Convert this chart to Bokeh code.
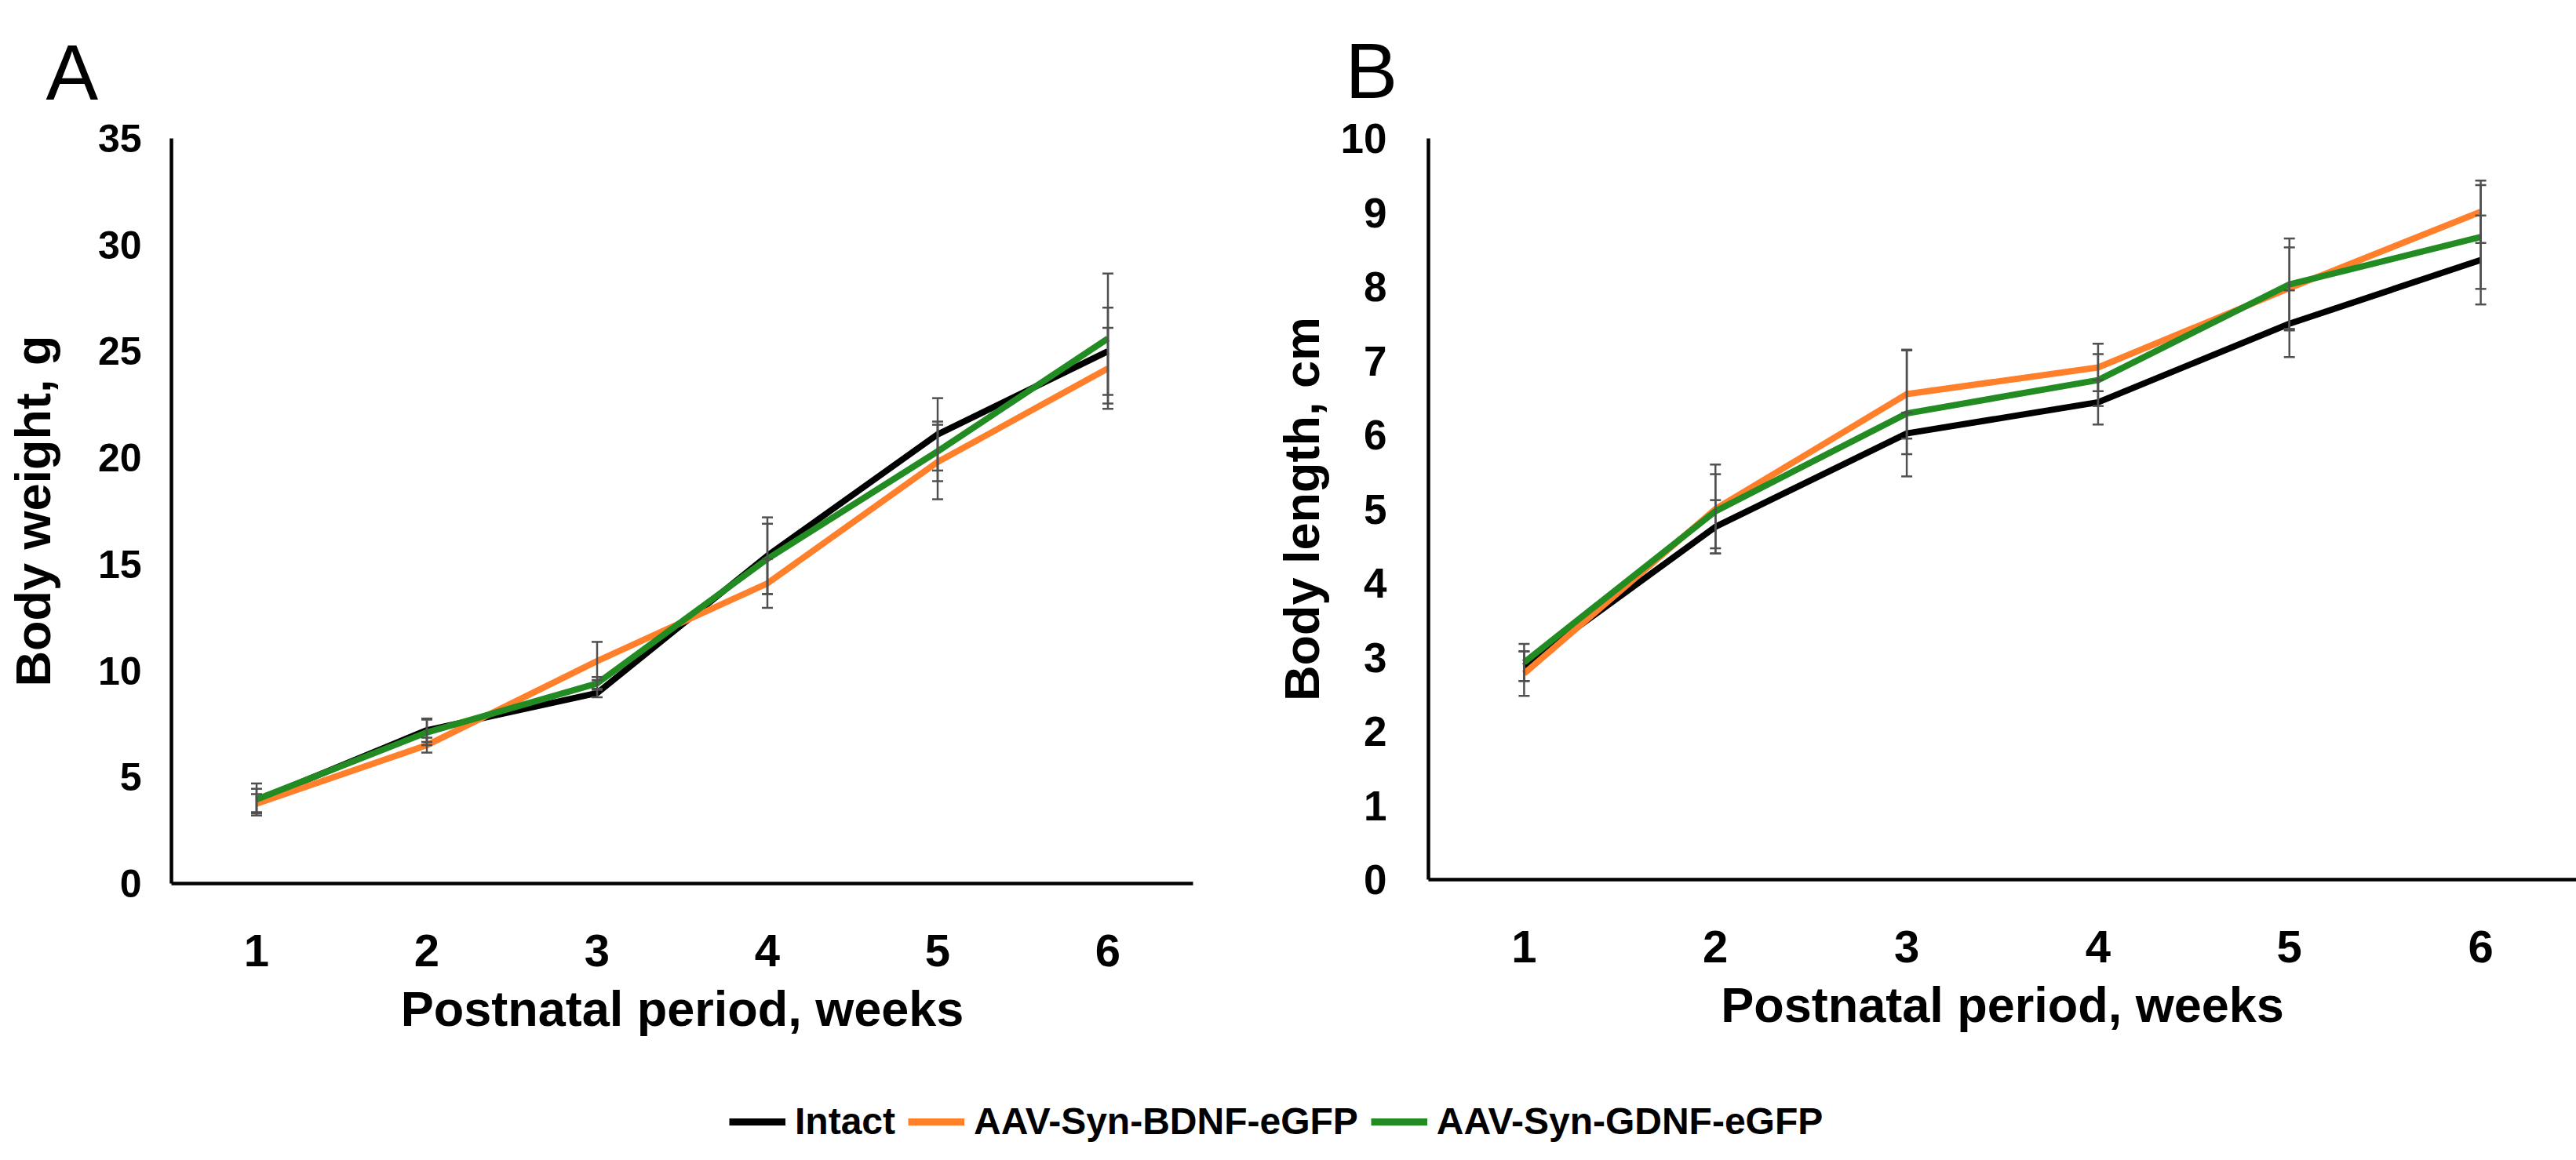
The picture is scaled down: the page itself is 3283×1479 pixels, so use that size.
from bokeh.plotting import figure
from bokeh.models import ColumnDataSource, Whisker, TeeHead, FixedTicker, Legend, LegendItem
from bokeh.layouts import column, row
from bokeh.embed import file_html
from bokeh.resources import INLINE

# ---------------- data ----------------
weeks = [1, 2, 3, 4, 5, 6]
series_names = ["Intact", "AAV-Syn-BDNF-eGFP", "AAV-Syn-GDNF-eGFP"]
series_colors = ["#000000", "#FF7F2A", "#228B22"]

weight_intact = [3.9, 7.2, 8.95, 15.4, 21.1, 25.0]
weight_bdnf = [3.75, 6.5, 10.45, 14.1, 19.8, 24.2]
weight_gdnf = [3.95, 7.1, 9.4, 15.25, 20.3, 25.6]
weight_err_intact = [0.55, 0.55, 0.2, 1.8, 1.7, 2.05]
weight_err_bdnf = [0.45, 0.35, 0.9, 1.15, 1.75, 1.9]
weight_err_gdnf = [0.75, 0.6, 0.3, 1.65, 1.4, 3.05]

length_intact = [2.88, 4.76, 6.02, 6.44, 7.5, 8.36]
length_bdnf = [2.78, 5.0, 6.55, 6.91, 7.98, 9.01]
length_gdnf = [2.93, 4.97, 6.29, 6.74, 8.03, 8.67]
length_err_intact = [0.2, 0.36, 0.28, 0.3, 0.45, 0.6]
length_err_bdnf = [0.3, 0.6, 0.6, 0.32, 0.55, 0.42]
length_err_gdnf = [0.25, 0.5, 0.85, 0.35, 0.62, 0.7]

weight_ticks = [0, 5, 10, 15, 20, 25, 30, 35]
length_ticks = [0, 1, 2, 3, 4, 5, 6, 7, 8, 9, 10]

x_title = "Postnatal period, weeks"
FONT = "Liberation Sans"
ERR_COLOR = "#505050"


def make_panel(letter, ylabel, yticks, ymax, values, errors,
               left, right, top, bottom, fw, fh,
               ytick_size, ytick_standoff, ylabel_standoff,
               letter_offset, letter_standoff):
    p = figure(frame_width=fw, frame_height=fh,
               min_border_left=left, min_border_right=right,
               min_border_top=top, min_border_bottom=bottom,
               x_range=(0.5, 6.5), y_range=(0, ymax),
               output_backend="svg", toolbar_location=None, tools="")
    p.grid.visible = False
    p.outline_line_color = None
    p.background_fill_color = "white"
    p.border_fill_color = "white"

    # panel letter as the figure title
    p.title.text = letter
    p.title.text_font = FONT
    p.title.text_font_size = "100px"
    p.title.text_font_style = "normal"
    p.title.text_color = "black"
    p.title.align = "left"
    p.title.offset = letter_offset
    try:
        p.title.standoff = letter_standoff
    except Exception:
        pass

    for ax in (p.xaxis[0], p.yaxis[0]):
        ax.axis_line_color = "black"
        ax.axis_line_width = 4.5
        ax.major_tick_line_color = None
        ax.minor_tick_line_color = None
        ax.major_tick_out = 0
        ax.major_tick_in = 0
        ax.major_label_text_font = FONT
        ax.major_label_text_font_style = "bold"
        ax.major_label_text_color = "black"
        ax.axis_label_text_font = FONT
        ax.axis_label_text_font_style = "bold"
        ax.axis_label_text_color = "black"
        ax.axis_label_text_font_size = "63px"

    p.xaxis.ticker = FixedTicker(ticks=weeks)
    p.xaxis.major_label_text_font_size = "58px"
    p.xaxis.major_label_standoff = 65
    p.xaxis.axis_label = x_title
    p.xaxis.axis_label_standoff = 16

    p.yaxis.ticker = FixedTicker(ticks=yticks)
    p.yaxis.major_label_text_font_size = ytick_size
    p.yaxis.major_label_standoff = ytick_standoff
    p.yaxis.axis_label = ylabel
    p.yaxis.axis_label_standoff = ylabel_standoff

    for vals, errs, color in zip(values, errors, series_colors):
        src = ColumnDataSource(dict(
            x=weeks,
            y=vals,
            upper=[v + e for v, e in zip(vals, errs)],
            lower=[v - e for v, e in zip(vals, errs)],
        ))
        p.line("x", "y", source=src, line_color=color, line_width=8,
               line_join="round")
        wh = Whisker(source=src, base="x", upper="upper", lower="lower",
                     dimension="height", line_color=ERR_COLOR, line_width=2.5,
                     upper_head=TeeHead(size=14, line_color=ERR_COLOR, line_width=2.5),
                     lower_head=TeeHead(size=14, line_color=ERR_COLOR, line_width=2.5),
                     level="annotation")
        p.add_layout(wh)
    return p


pA = make_panel("A", "Body weight, g", weight_ticks, 35,
                [weight_intact, weight_bdnf, weight_gdnf],
                [weight_err_intact, weight_err_bdnf, weight_err_gdnf],
                left=218, right=100, top=169, bottom=213, fw=1302, fh=950,
                ytick_size="50px", ytick_standoff=38, ylabel_standoff=45,
                letter_offset=-160, letter_standoff=57)

pB = make_panel("B", "Body length, cm", length_ticks, 10,
                [length_intact, length_bdnf, length_gdnf],
                [length_err_intact, length_err_bdnf, length_err_gdnf],
                left=182, right=2, top=174, bottom=213, fw=1463, fh=945,
                ytick_size="53px", ytick_standoff=53, ylabel_standoff=12,
                letter_offset=-106, letter_standoff=62)

# ---------------- legend strip ----------------
pL = figure(width=3267, height=123, x_range=(0, 1), y_range=(0, 1),
            output_backend="svg", toolbar_location=None, tools="",
            x_axis_location=None, y_axis_location=None,
            min_border_left=0, min_border_right=0, min_border_top=0, min_border_bottom=0)
pL.grid.visible = False
pL.outline_line_color = None
items = []
for name, color in zip(series_names, series_colors):
    # sample lines kept outside the visible range; only their legend swatch shows
    r = pL.line(x=[0, 1], y=[5, 5], line_color=color, line_width=9)
    items.append(LegendItem(label=name, renderers=[r]))
legend = Legend(items=items, orientation="horizontal", location=(929, 0),
                label_text_font=FONT, label_text_font_style="bold",
                label_text_font_size="48px", label_text_color="black",
                glyph_width=72, glyph_height=40, label_standoff=12, spacing=16,
                padding=0, margin=0, border_line_color=None,
                background_fill_alpha=0)
pL.add_layout(legend, "center")

layout = column(row(pA, pB), pL)

open("out.html", "w").write(file_html(layout, INLINE))
